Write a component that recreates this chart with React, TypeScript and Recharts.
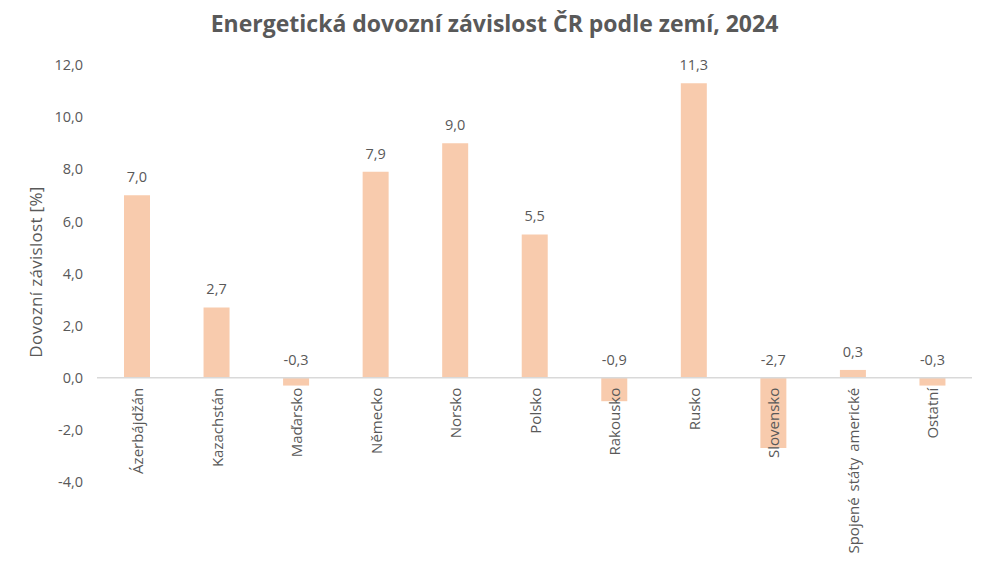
import React from "react";
import { Bar, BarChart, LabelList, ReferenceLine, XAxis, YAxis } from "recharts";

const countries = [
  "Ázerbájdžán",
  "Kazachstán",
  "Maďarsko",
  "Německo",
  "Norsko",
  "Polsko",
  "Rakousko",
  "Rusko",
  "Slovensko",
  "Spojené státy americké",
  "Ostatní",
];
const dependency = [7.0, 2.7, -0.3, 7.9, 9.0, 5.5, -0.9, 11.3, -2.7, 0.3, -0.3];
const yTicks = [-4, -2, 0, 2, 4, 6, 8, 10, 12];

const data = countries.map((name, i) => ({ name, value: dependency[i] }));

const TEXT = "#595959";
const FONT = "'Open Sans', sans-serif";
const fmt = (v: number) => v.toFixed(1).replace(".", ",");

function zeroOf(p: any) {
  const y = Number(p.y);
  const h = Number(p.height);
  return Number(p.value) >= 0 ? Math.max(y, y + h) : Math.min(y, y + h);
}

function ValueLabel(p: any) {
  const y = Number(p.y);
  const h = Number(p.height);
  const top = Math.min(y, y + h);
  const cx = Number(p.x) + Number(p.width) / 2;
  return (
    <text x={cx} y={top - 13} textAnchor="middle" fontSize={14.5} fill={TEXT} fontFamily={FONT}>
      {fmt(Number(p.value))}
    </text>
  );
}

function CategoryLabel(p: any) {
  const cx = Number(p.x) + Number(p.width) / 2;
  const zero = zeroOf({ ...p, value: dependency[p.index] });
  const ty = zero + 10;
  return (
    <text
      x={cx}
      y={ty}
      transform={`rotate(-90 ${cx} ${ty})`}
      textAnchor="end"
      dominantBaseline="central"
      fontSize={15}
      wordSpacing={2}
      fill={TEXT}
      fontFamily={FONT}
    >
      {p.value}
    </text>
  );
}

export default function App() {
  return (
    <div style={{ position: "absolute", left: 0, top: 0, width: 989, height: 564, background: "#fff" }}>
      <div
        style={{
          position: "absolute",
          top: 7,
          left: 0,
          width: 989,
          textAlign: "center",
          fontFamily: FONT,
          fontWeight: 700,
          fontSize: 23,
          color: TEXT,
        }}
      >
        Energetická dovozní závislost ČR podle zemí, 2024
      </div>
      <BarChart
        width={989}
        height={564}
        data={data}
        margin={{ top: 65, right: 17, bottom: 82, left: 0 }}
        barCategoryGap={0}
      >
        <XAxis dataKey="name" hide />
        <YAxis
          width={97}
          domain={[-4, 12]}
          ticks={yTicks}
          tickFormatter={fmt}
          axisLine={false}
          tickLine={false}
          tickSize={0}
          tickMargin={14}
          tick={{ fontSize: 14.5, fill: TEXT, fontFamily: FONT }}
          label={{
            content: () => (
              <text
                x={35}
                y={272}
                transform="rotate(-90 35 272)"
                textAnchor="middle"
                dominantBaseline="central"
                fontSize={17}
                letterSpacing={0.3}
                fill={TEXT}
                fontFamily={FONT}
              >
                Dovozní závislost [%]
              </text>
            ),
          }}
        />
        <ReferenceLine y={0} stroke="#D9D9D9" strokeWidth={1.5} />
        <Bar dataKey="value" fill="#F8CBAD" barSize={26} isAnimationActive={false}>
          <LabelList dataKey="value" content={ValueLabel} />
          <LabelList dataKey="name" content={CategoryLabel} />
        </Bar>
      </BarChart>
    </div>
  );
}
